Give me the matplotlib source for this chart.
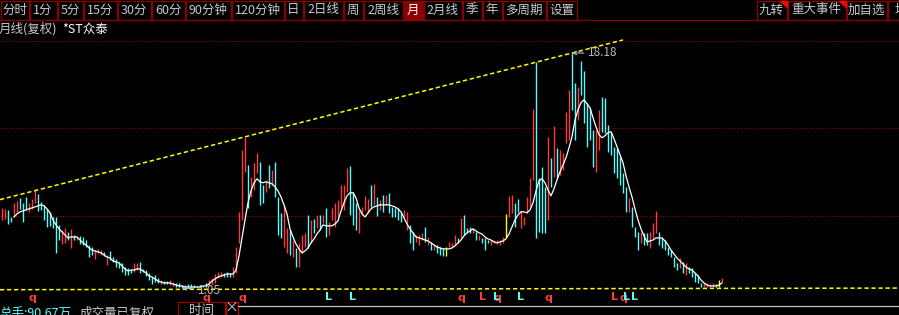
import matplotlib
matplotlib.use("Agg")
import matplotlib.pyplot as plt
import matplotlib.transforms as mtransforms
from matplotlib.patches import Rectangle, Polygon

plt.rcParams['font.family'] = ['Noto Sans CJK SC', 'DejaVu Sans']

# ---------------- data (monthly bars, forward adjusted) ----------------
highs = [
    6.89, 6.82, 6.74, 6.23, 7.26, 7.40, 7.62, 7.26, 7.69, 7.26,
    7.55, 8.28, 7.91, 7.33, 7.11, 6.82, 6.60, 6.23, 6.23, 5.65,
    5.28, 5.43, 5.14, 5.36, 4.92, 4.85, 4.85, 4.77, 4.55, 4.19,
    4.04, 3.82, 3.90, 3.82, 3.68, 3.46, 3.75, 3.31, 3.17, 2.95,
    2.88, 2.58, 2.51, 2.44, 2.88, 2.88, 2.95, 2.44, 2.36, 2.15,
    1.85, 2.00, 1.78, 1.63, 1.56, 1.56, 1.63, 1.49, 1.42, 1.42,
    1.27, 1.27, 1.34, 1.34, 1.27, 1.20, 1.27, 1.20, 1.42, 1.63,
    1.78, 2.07, 2.22, 2.22, 2.15, 2.22, 2.15, 2.58, 4.04, 6.60,
    11.12, 12.07, 10.03, 9.15, 10.18, 10.91, 10.25, 8.57, 8.93, 10.03,
    9.66, 10.25, 7.69, 6.53, 7.11, 5.43, 5.28, 4.55, 3.97, 4.34,
    4.92, 5.07, 6.38, 6.01, 6.09, 6.38, 6.38, 6.38, 6.89, 5.87,
    6.89, 7.26, 7.47, 8.57, 8.57, 9.81, 9.96, 8.06, 7.26, 6.74,
    6.96, 7.77, 7.55, 8.57, 8.64, 7.69, 7.47, 7.84, 7.84, 7.99,
    6.96, 6.89, 6.89, 6.60, 6.74, 6.60, 5.65, 5.14, 4.92, 4.92,
    5.07, 5.50, 4.77, 4.41, 4.19, 4.19, 4.04, 3.97, 4.04, 4.41,
    4.34, 4.92, 4.70, 6.16, 6.38, 5.43, 5.50, 5.43, 5.14, 4.92,
    4.70, 4.70, 4.55, 4.55, 4.55, 4.55, 4.55, 4.77, 6.45, 7.77,
    7.84, 7.26, 7.55, 6.74, 6.23, 7.69, 9.08, 14.12, 17.55, 9.08,
    9.88, 8.42, 12.07, 10.54, 12.88, 11.27, 11.12, 10.91, 13.90, 15.50,
    18.18, 16.02, 15.72, 17.62, 16.89, 14.56, 14.19, 12.58, 12.58, 14.04,
    14.99, 14.92, 12.95, 12.44, 11.34, 11.27, 10.61, 9.45, 8.42, 7.62,
    6.96, 5.50, 5.14, 5.14, 5.07, 5.07, 5.14, 5.80, 6.67, 5.14,
    4.70, 4.55, 4.04, 3.82, 3.31, 2.88, 3.24, 2.95, 2.88, 2.58,
    2.51, 2.15, 2.00, 1.42, 1.42, 1.42, 1.34, 1.42, 1.34, 1.63,
    1.78,
]
lows = [
    6.01, 6.09, 5.72, 5.87, 6.23, 6.60, 6.82, 5.87, 6.74, 6.60,
    6.82, 7.26, 6.67, 6.74, 6.01, 5.50, 5.58, 5.43, 3.61, 4.55,
    4.26, 4.34, 4.55, 3.97, 4.55, 4.55, 4.26, 4.19, 4.04, 3.31,
    3.46, 3.17, 3.61, 3.46, 3.39, 2.73, 3.09, 2.95, 2.58, 2.51,
    2.22, 2.00, 2.00, 2.15, 2.22, 2.36, 2.15, 2.22, 1.93, 1.63,
    1.34, 1.49, 1.42, 1.34, 1.34, 1.34, 1.27, 1.20, 1.12, 1.12,
    1.05, 1.10, 1.12, 1.12, 1.12, 1.10, 1.12, 1.12, 1.12, 1.20,
    1.27, 1.42, 1.78, 1.85, 1.85, 1.85, 1.85, 1.85, 2.15, 4.34,
    6.01, 9.52, 6.89, 7.69, 8.20, 9.45, 7.11, 7.26, 8.06, 8.35,
    8.57, 7.69, 4.92, 4.70, 4.04, 3.61, 3.46, 3.31, 2.58, 2.58,
    3.61, 4.04, 3.97, 4.34, 5.07, 5.43, 5.28, 5.80, 4.77, 4.92,
    6.01, 5.50, 6.23, 6.96, 6.74, 8.06, 6.38, 5.65, 5.28, 5.07,
    6.38, 6.74, 6.53, 6.96, 7.11, 6.31, 6.74, 6.60, 7.11, 6.53,
    6.23, 6.23, 6.01, 5.87, 6.23, 5.28, 4.34, 3.82, 4.41, 4.19,
    4.55, 4.41, 4.19, 3.82, 3.82, 3.61, 3.46, 3.39, 3.39, 4.04,
    4.04, 4.19, 4.34, 4.70, 4.92, 5.07, 5.07, 5.07, 4.55, 4.55,
    4.34, 3.82, 4.34, 4.19, 4.34, 4.26, 4.19, 4.34, 4.77, 6.23,
    6.53, 5.50, 6.60, 5.43, 5.65, 6.53, 6.96, 8.93, 4.70, 5.14,
    5.07, 5.07, 6.01, 8.42, 9.15, 9.08, 9.30, 9.66, 11.64, 11.85,
    14.04, 11.85, 13.31, 15.14, 13.10, 11.34, 11.85, 9.88, 9.52, 11.12,
    12.44, 12.37, 10.98, 10.76, 9.45, 9.08, 8.57, 7.99, 6.60, 6.60,
    5.50, 4.77, 3.82, 4.34, 4.19, 4.19, 3.97, 4.70, 5.07, 4.19,
    3.97, 3.82, 3.46, 3.31, 2.58, 2.36, 2.51, 2.15, 2.00, 2.15,
    1.85, 1.49, 1.42, 1.12, 1.12, 1.12, 1.12, 1.12, 1.12, 1.12,
    1.49,
]
# r = up month, c = down month, y = flat month
direction = (
    "rrccrrcccr" "rrcccccccc" "rrcrcrcccc" "crrrcrcccc" "ccccrrcccc"
    "cccrccrrcc" "cccccccccr" "rrrrcccrrr" "rrcrrrccrc" "rcccrrcrcr"
    "rrcrcrcrcr" "rrrrrrcccr" "rrrcrcrcrc" "ccccrrccrr" "rcrcrcccyr"
    "rrcrcccrcr" "cccrrrrryr" "rccrrrrrcc" "ccrcrcrrrr" "ccrcccccrr"
    "cccccccccr" "cccrccrrrc" "ccccccrcrc" "ccccrrrrcy" "r"
)
ma5 = [None] * 4 + [
    6.23, 6.45, 6.60, 6.67, 6.74, 6.82,
    6.89, 6.96, 7.04, 7.11, 7.04, 6.82, 6.53, 6.01, 5.65, 5.36,
    5.14, 4.92, 4.70, 4.77, 4.77, 4.77, 4.55, 4.34, 4.19, 3.97,
    3.82, 3.75, 3.68, 3.61, 3.46, 3.31, 3.24, 3.02, 2.95, 2.88,
    2.66, 2.44, 2.29, 2.36, 2.36, 2.44, 2.44, 2.29, 2.15, 1.93,
    1.85, 1.71, 1.56, 1.49, 1.42, 1.42, 1.42, 1.34, 1.27, 1.20,
    1.20, 1.12, 1.12, 1.12, 1.12, 1.12, 1.12, 1.20, 1.20, 1.34,
    1.56, 1.71, 1.85, 1.93, 2.00, 2.07, 2.07, 2.07, 2.36, 3.39,
    4.70, 6.01, 7.26, 8.13, 8.72, 9.01, 8.79, 8.72, 8.79, 8.72,
    8.64, 8.42, 8.13, 7.69, 7.11, 6.45, 5.36, 4.77, 4.26, 3.90,
    3.61, 3.75, 3.97, 4.34, 4.63, 4.99, 5.28, 5.65, 5.58, 5.58,
    5.58, 5.72, 5.94, 6.67, 7.26, 7.77, 7.99, 7.99, 7.62, 6.89,
    6.45, 6.23, 6.53, 6.82, 6.96, 7.04, 7.11, 7.11, 7.11, 7.11,
    7.04, 6.96, 6.82, 6.60, 6.16, 5.72, 5.36, 5.07, 4.77, 4.70,
    4.63, 4.55, 4.48, 4.34, 4.19, 4.04, 3.97, 3.90, 3.90, 3.90,
    3.97, 4.12, 4.34, 4.55, 4.85, 5.07, 5.21, 5.36, 5.21, 5.07,
    4.99, 4.77, 4.63, 4.55, 4.41, 4.34, 4.41, 4.48, 4.63, 4.99,
    5.50, 6.01, 6.38, 6.60, 6.60, 6.53, 6.74, 7.26, 8.13, 8.86,
    9.01, 8.72, 8.20, 7.77, 8.28, 8.93, 9.52, 10.03, 10.54, 11.27,
    12.07, 13.31, 14.04, 14.56, 14.77, 14.48, 14.19, 13.46, 12.80, 12.22,
    12.00, 12.15, 12.37, 12.44, 11.93, 11.34, 10.76, 10.18, 9.23, 8.42,
    7.69, 6.82, 6.01, 5.36, 4.85, 4.41, 4.48, 4.55, 4.70, 4.70,
    4.70, 4.48, 4.19, 3.82, 3.53, 3.24, 3.02, 2.80, 2.58, 2.44,
    2.36, 2.15, 1.93, 1.63, 1.42, 1.27, 1.20, 1.20, 1.20, 1.27,
    1.42,
]
grid_levels = [6.31, 12.73, 19.08]
upper_trend = (81, 190, 207)   # two high anchors and the bar where the line stops
lower_trend = (60, 237)        # two low anchors, line runs across the chart
q_marks = [10, 68, 80, 153, 165, 182, 207]
l_red_marks = [160, 204]
l_cyan_marks = [109, 117, 165, 173, 208, 211]

period_tabs = ["分时", "1分", "5分", "15分", "30分", "60分", "90分钟", "120分钟", "日",
               "2日线", "周", "2周线", "月", "2月线", "季", "年", "多周期", "设置"]
right_tabs = ["九转", "重大事件", "加自选", "均"]
selected_tab = "月"
title_period = "月线(复权)"
stock_name = "*ST众泰"
volume_text = "总手:90.67万"
volume_note = "成交量已复权"

# ---------------- layout ----------------
W, H = 899, 315
RED = '#ff3c3c'
CYAN = '#54fcfc'
YELLOW = '#ffff00'
BORDER = '#8c0000'
TXT = '#c8c8c8'

fig = plt.figure(figsize=(W / 100, H / 100), dpi=100, facecolor='black')

# price panel: the lowest low sits at y=288 px, the highest high at y=53 px
top_px, bot_px = 20, 305
lo, hi = min(lows), max(highs)
k = (hi - lo) / (288 - 53)
ax = fig.add_axes([0, (H - bot_px) / H, 1, (bot_px - top_px) / H])
ax.set_facecolor('black')
ax.set_xlim(-2 / 3, (W - 2) / 3)
ax.set_ylim(lo - k * (bot_px - 288), lo + k * (288 - top_px))
ax.axis('off')

for lvl in grid_levels:
    ax.axhline(lvl, color='#a00000', lw=0.75, ls=(0, (1, 2)), zorder=1)

xs = list(range(len(highs)))
cmap = {'r': RED, 'c': CYAN, 'y': YELLOW}
ax.vlines(xs, lows, highs, colors=[cmap[d] for d in direction], lw=1.0, zorder=2)
ax.plot(xs[4:], ma5[4:], color='white', lw=0.9, zorder=3)

# trend lines drawn through the anchor bars
a, b, end = upper_trend
slope = (highs[b] - highs[a]) / (b - a)
x0 = -2 / 3
ax.plot([x0, end], [highs[a] + slope * (x0 - a), highs[a] + slope * (end - a)],
        color=YELLOW, lw=1.1, ls=(0, (2.8, 1.8)), zorder=4)
a, b = lower_trend
slope = (lows[b] - lows[a]) / (b - a)
x1 = (W - 2) / 3
ax.plot([x0, x1], [lows[a] + slope * (x0 - a) - 0.1, lows[a] + slope * (x1 - a) - 0.1],
        color=YELLOW, lw=1.1, ls=(0, (2.8, 1.8)), zorder=4)

ih = highs.index(hi)
ax.annotate(f"{hi:.2f}", xy=(ih, hi), xytext=(16, 0), textcoords='offset pixels',
            color='#b8b8c0', fontsize=8.5, va='center', ha='left',
            arrowprops=dict(arrowstyle='->', color='#b8b8c0', lw=0.8,
                            shrinkA=1, shrinkB=0, mutation_scale=6), zorder=5)
il = lows.index(lo)
ax.annotate(f"{lo:.2f}", xy=(il, lo), xytext=(16, -2), textcoords='offset pixels',
            color='#b8b8c0', fontsize=8.5, va='center', ha='left',
            arrowprops=dict(arrowstyle='->', color='#b8b8c0', lw=0.8,
                            shrinkA=1, shrinkB=0, mutation_scale=6), zorder=5)

mk = mtransforms.blended_transform_factory(ax.transData, ax.transAxes)
for i in q_marks:
    ax.text(i, 0.025, 'q', color=RED, fontsize=8, fontweight='bold', ha='center',
            va='center', transform=mk, family='DejaVu Sans')
for i in l_red_marks:
    ax.text(i, 0.028, 'L', color=RED, fontsize=8, fontweight='bold', ha='center',
            va='center', transform=mk, family='DejaVu Sans')
for i in l_cyan_marks:
    ax.text(i, 0.028, 'L', color=CYAN, fontsize=8, fontweight='bold', ha='center',
            va='center', transform=mk, family='DejaVu Sans')

# ---------------- toolbar, titles, footer (pixel coordinates) ----------------
ui = fig.add_axes([0, 0, 1, 1])
ui.set_xlim(0, W)
ui.set_ylim(H, 0)
ui.axis('off')
ui.patch.set_alpha(0)

left_edges = [0, 29, 57, 83, 117, 151, 185, 231, 284, 303, 343, 363, 403, 423,
              462, 482, 502, 546, 577]
right_edges = [756, 787, 846, 887, 915]
ui.plot([0, W], [19.5, 19.5], color=BORDER, lw=0.9)


def cells(labels, edges):
    for lab, l, r in zip(labels, edges[:-1], edges[1:]):
        sel = lab == selected_tab
        ui.add_patch(Rectangle((l + 0.5, 0.5), r - l - 1, 19, facecolor='#8c0000' if sel else 'black',
                               edgecolor=BORDER, lw=0.9))
        ui.text((l + r) / 2, 10, lab, color='white' if sel else TXT, fontsize=9,
                ha='center', va='center')


cells(period_tabs, left_edges)
cells(right_tabs, right_edges)
for r in right_edges[1:3]:
    ui.add_patch(Polygon([(r - 7, 0.5), (r - 0.5, 0.5), (r - 0.5, 7)], color='#ff0000'))

ui.text(-1, 29, title_period, color=TXT, fontsize=9, ha='left', va='center')
ui.text(62, 29, stock_name, color='white', fontsize=9, ha='left', va='center')

ui.plot([238, W], [305.5, 305.5], color='#c0c0c0', lw=0.9)
ui.text(-1, 307, volume_text, color=CYAN, fontsize=9, ha='left', va='top')
ui.text(80, 307, volume_note, color=TXT, fontsize=9, ha='left', va='top')
ui.add_patch(Rectangle((177.5, 301.5), 47, 20, facecolor='black', edgecolor='#a00000', lw=0.9))
ui.text(201, 304, "时间", color=TXT, fontsize=9, ha='center', va='top')
ui.add_patch(Rectangle((225.5, 301.5), 12, 20, facecolor='black', edgecolor='#c00000', lw=0.9))
ui.text(231.5, 308, "×", color=TXT, fontsize=10, ha='center', va='center')

fig.savefig('out.png', dpi=100, facecolor='black')
